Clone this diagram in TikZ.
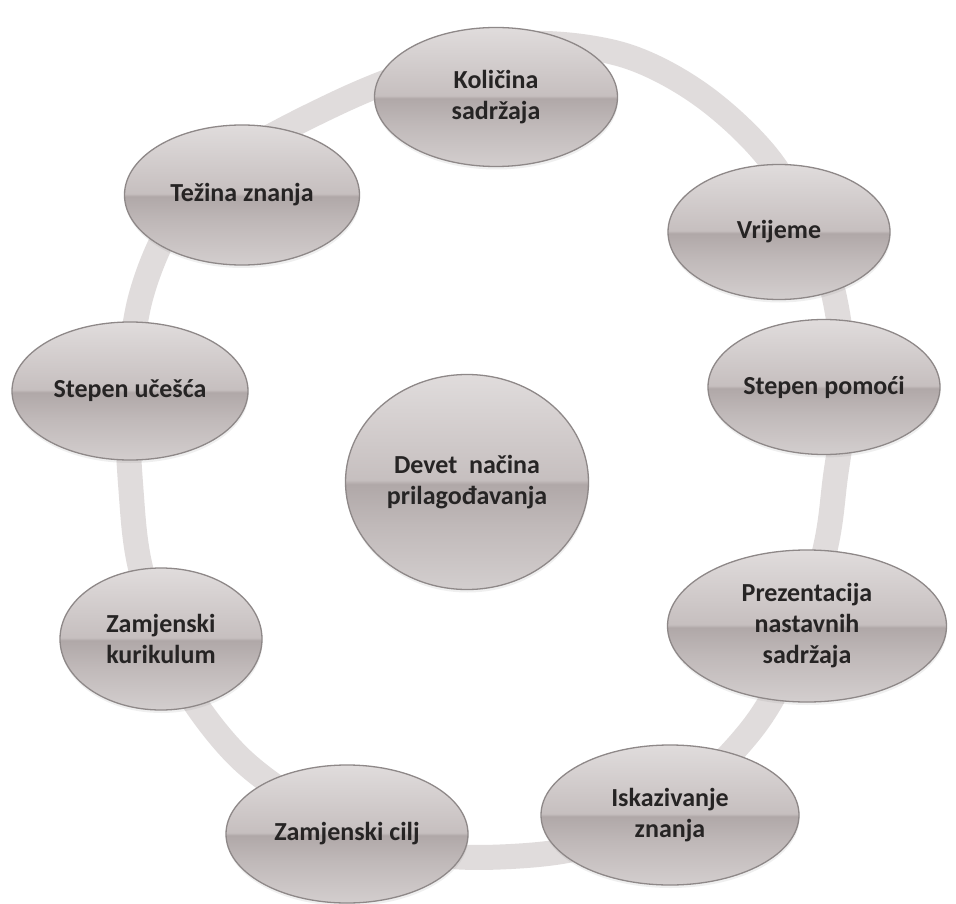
\documentclass[tikz,border=0pt]{standalone}
\usepackage{fontspec}
\setmainfont{Carlito}
\usetikzlibrary{shapes.geometric,shadows}
\definecolor{gtop}{HTML}{E0DCDC}
\definecolor{gmidhi}{HTML}{C6BFBF}
\definecolor{gmidlo}{HTML}{B0A8A8}
\definecolor{glow}{HTML}{C0B9B9}
\definecolor{gbot}{HTML}{D3CECE}
\definecolor{bordergray}{HTML}{8E8888}
\definecolor{ringgray}{HTML}{E0DCDC}
\definecolor{txt}{HTML}{262424}
\pgfdeclareverticalshading{glossy}{100bp}{color(0bp)=(gbot); color(25bp)=(gbot); color(40bp)=(glow); color(49.5bp)=(gmidlo); color(50.5bp)=(gmidhi); color(75bp)=(gtop); color(100bp)=(gtop)}
\tikzset{
  bub/.style={ellipse, draw=bordergray, line width=1.3pt, shading=glossy, inner sep=0pt, align=center,
    font=\fontsize{26}{31}\selectfont\bfseries, text=txt,
    drop shadow={opacity=0.12, shadow xshift=0.5pt, shadow yshift=-3pt}},
  ring/.style={draw=ringgray, line width=25pt}
}
\begin{document}
\begin{tikzpicture}[x=1pt,y=-1pt]
\fill[white] (0,0) rectangle (956,904);
\useasboundingbox (0,0) rectangle (956,904);
\draw[ring] plot[smooth cycle, tension=0.55] coordinates {
 (520,44) (620,54) (700,94) (770,160) (820,250) (840,330) (842,420) (835,480)
 (826,545) (800,640) (755,725) (680,800) (590,845) (500,857) (420,852) (330,820)
 (240,758) (175,670) (141,570) (131,490) (128,400) (140,300) (175,218) (235,158)
 (335,104) (420,70)};
\node[bub, minimum width=243pt, minimum height=139pt] (kol) at (496,97) {Količina\\sadržaja};
\node[bub, minimum width=222pt, minimum height=135pt] (vri) at (779,232) {Vrijeme};
\node[bub, minimum width=232pt, minimum height=135pt] (pom) at (824,387) {Stepen pomoći};
\node[bub, minimum width=279pt, minimum height=152pt] (pre) at (807,626) {Prezentacija\\nastavnih\\sadržaja};
\node[bub, minimum width=258pt, minimum height=140pt] (isk) at (670,815) {Iskazivanje\\znanja};
\node[bub, minimum width=242pt, minimum height=138pt] (cil) at (347,834) {Zamjenski cilj};
\node[bub, minimum width=202pt, minimum height=142pt] (kur) at (161,639) {Zamjenski\\kurikulum};
\node[bub, minimum width=236pt, minimum height=138pt] (uce) at (130,391) {Stepen učešća};
\node[bub, minimum width=235pt, minimum height=140pt] (tez) at (242,195) {Težina znanja};
\node[bub, minimum width=243pt, minimum height=215pt] (dev) at (467,482) {Devet\ \ načina\\prilagođavanja};
\end{tikzpicture}
\end{document}
